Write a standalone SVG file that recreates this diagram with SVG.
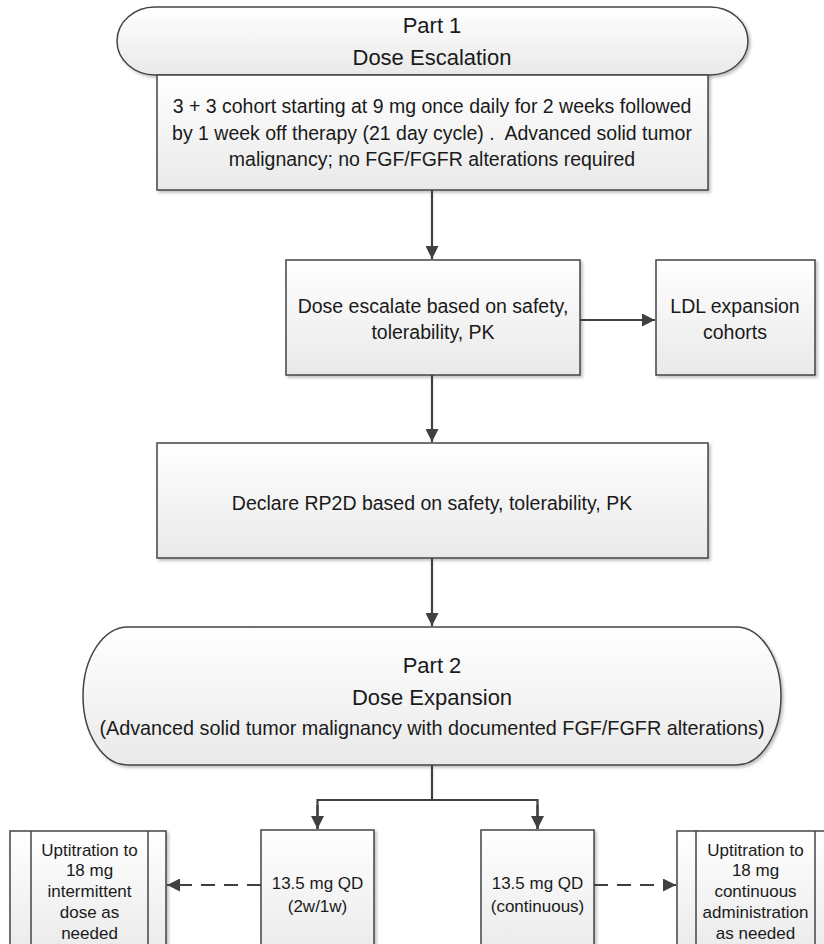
<svg xmlns="http://www.w3.org/2000/svg" width="824" height="944" viewBox="0 0 824 944">
<defs>
<linearGradient id="g" x1="0" y1="0" x2="0" y2="1">
<stop offset="0" stop-color="#ffffff"/>
<stop offset="1" stop-color="#e9e9e9"/>
</linearGradient>
<filter id="sh" x="-5%" y="-5%" width="110%" height="115%">
<feDropShadow dx="2" dy="2" stdDeviation="1.5" flood-color="#000" flood-opacity="0.25"/>
</filter>
<marker id="ah" viewBox="0 0 13 13" refX="13" refY="6.5" markerWidth="13" markerHeight="13" markerUnits="userSpaceOnUse" orient="auto">
<path d="M0,0 L13,6.5 L0,13 z" fill="#404040"/>
</marker>
</defs>
<style>
.n{fill:url(#g);stroke:#444;stroke-width:1.5;filter:url(#sh)}
.l{fill:none;stroke:#444;stroke-width:1.5}
.t{font-family:"Liberation Sans",Arial,sans-serif;font-size:19.5px;fill:#1a1a1a;text-anchor:middle}
.h{font-size:22px}
.s{font-size:17px}
.c{fill:none;stroke:#404040;stroke-width:2.2}
.d{stroke-dasharray:14 9}
</style>
<g id="part1">
<rect class="n" x="117" y="7" width="631" height="68" rx="38" ry="34"/>
<text class="t h" x="432" y="33">Part 1</text>
<text class="t h" x="432" y="65">Dose Escalation</text>
</g>
<g id="cohort">
<rect class="n" x="157" y="75" width="551" height="115"/>
<text class="t" x="432" y="113">3 + 3 cohort starting at 9 mg once daily for 2 weeks followed</text>
<text class="t" x="432" y="140" xml:space="preserve">by 1 week off therapy (21 day cycle) .  Advanced solid tumor</text>
<text class="t" x="432" y="166">malignancy; no FGF/FGFR alterations required</text>
</g>
<g id="escalate">
<rect class="n" x="286" y="260" width="294" height="115"/>
<text class="t" x="433" y="313">Dose escalate based on safety,</text>
<text class="t" x="433" y="339">tolerability, PK</text>
</g>
<g id="ldl">
<rect class="n" x="656" y="260" width="159" height="115"/>
<text class="t" x="735" y="313">LDL expansion</text>
<text class="t" x="735" y="339">cohorts</text>
</g>
<g id="rp2d">
<rect class="n" x="157" y="443" width="551" height="115"/>
<text class="t" x="432" y="510">Declare RP2D based on safety, tolerability, PK</text>
</g>
<g id="part2">
<rect class="n" x="83" y="627" width="698" height="138" rx="45" ry="69"/>
<text class="t h" x="432" y="673">Part 2</text>
<text class="t h" x="432" y="705">Dose Expansion</text>
<text class="t" x="432" y="735" style="font-size:19.8px">(Advanced solid tumor malignancy with documented FGF/FGFR alterations)</text>
</g>
<g id="qd-intermittent">
<rect class="n" x="261" y="830" width="113" height="130"/>
<text class="t s" x="317.5" y="889">13.5 mg QD</text>
<text class="t s" x="317.5" y="912">(2w/1w)</text>
</g>
<g id="qd-continuous">
<rect class="n" x="481" y="830" width="113" height="130"/>
<text class="t s" x="537.5" y="889">13.5 mg QD</text>
<text class="t s" x="537.5" y="912">(continuous)</text>
</g>
<g id="uptitrate-intermittent">
<rect class="n" x="10" y="831" width="156" height="130"/>
<line class="l" x1="31" y1="831" x2="31" y2="961"/>
<line class="l" x1="148" y1="831" x2="148" y2="961"/>
<text class="t s" x="89.5" y="856">Uptitration to</text>
<text class="t s" x="89.5" y="876">18 mg</text>
<text class="t s" x="89.5" y="897">intermittent</text>
<text class="t s" x="89.5" y="918">dose as</text>
<text class="t s" x="89.5" y="939">needed</text>
</g>
<g id="uptitrate-continuous">
<rect class="n" x="677" y="831" width="157" height="130"/>
<line class="l" x1="696" y1="831" x2="696" y2="961"/>
<line class="l" x1="815" y1="831" x2="815" y2="961"/>
<text class="t s" x="755.5" y="856">Uptitration to</text>
<text class="t s" x="755.5" y="876">18 mg</text>
<text class="t s" x="755.5" y="897">continuous</text>
<text class="t s" x="755.5" y="918">administration</text>
<text class="t s" x="755.5" y="939">as needed</text>
</g>
<g id="connectors">
<line class="c" x1="432" y1="190" x2="432" y2="259" marker-end="url(#ah)"/>
<line class="c" x1="580" y1="320" x2="655" y2="320" marker-end="url(#ah)"/>
<line class="c" x1="432" y1="375" x2="432" y2="442" marker-end="url(#ah)"/>
<line class="c" x1="432" y1="558" x2="432" y2="626" marker-end="url(#ah)"/>
<polyline class="c" points="432,765 432,800"/>
<polyline class="c" points="317.5,829 317.5,800 537.5,800 537.5,829"/>
<line class="c" x1="317.5" y1="805" x2="317.5" y2="829" marker-end="url(#ah)"/>
<line class="c" x1="537.5" y1="805" x2="537.5" y2="829" marker-end="url(#ah)"/>
<line class="c d" x1="261" y1="885" x2="167" y2="885" marker-end="url(#ah)"/>
<line class="c d" x1="594" y1="885" x2="676" y2="885" marker-end="url(#ah)"/>
</g>
</svg>
